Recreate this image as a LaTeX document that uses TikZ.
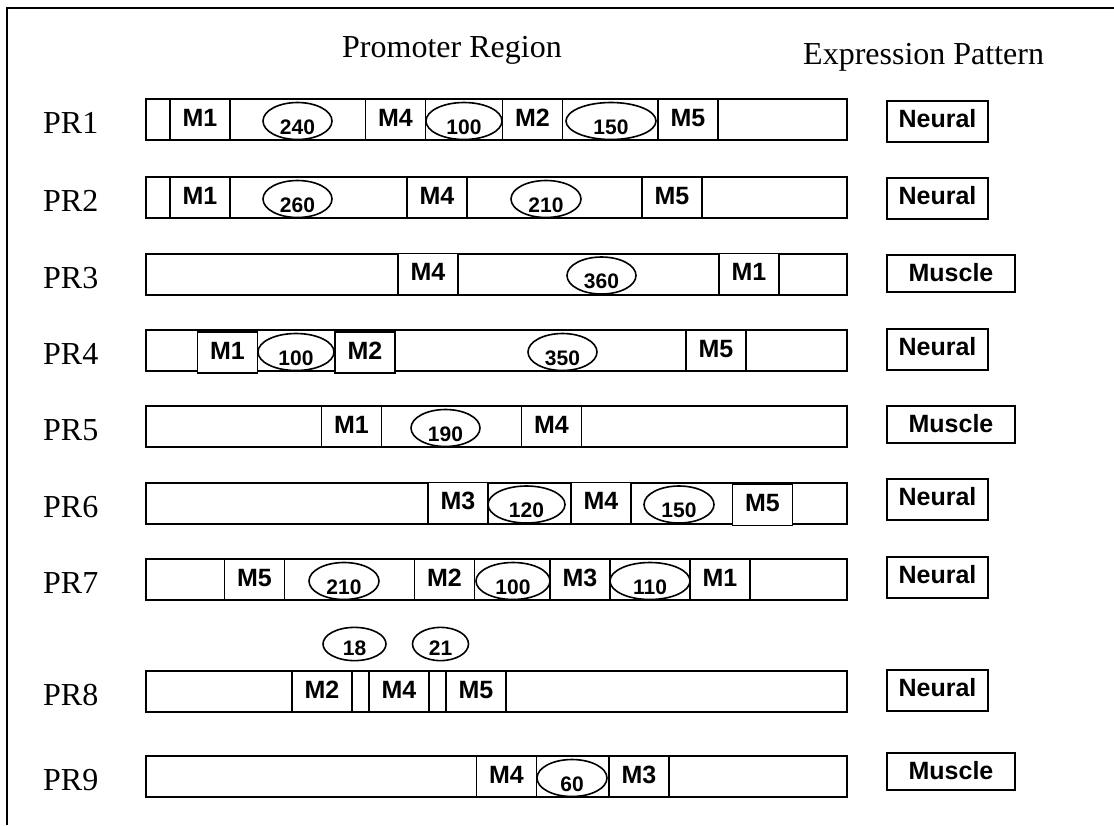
\documentclass[tikz,border=0pt]{standalone}
\usepackage{fontspec}
\setmainfont{Liberation Serif}
\setsansfont{Liberation Sans}
\usetikzlibrary{shapes.geometric}

\begin{document}
\begin{tikzpicture}[x=1pt,y=-1pt,
    barre/.style={draw,line width=2pt,inner sep=0pt,minimum width=701pt,minimum height=41pt},
    motif/.style={draw,line width=1.6pt,fill=white,inner sep=0pt,minimum width=60pt,text height=27pt,text depth=14pt,font=\sffamily\bfseries\fontsize{25}{27}\selectfont},
    trou/.style={draw,ellipse,line width=1.6pt,fill=white,inner sep=0pt,minimum height=37pt,text height=26pt,text depth=-2pt,font=\sffamily\bfseries\fontsize{21}{23}\selectfont},
    nom/.style={anchor=base west,inner sep=0pt,font=\fontsize{32}{34}\selectfont},
    neural/.style={draw,line width=2pt,anchor=west,inner sep=0pt,minimum width=101pt,text height=26pt,text depth=15pt,font=\sffamily\bfseries\fontsize{25}{27}\selectfont},
    muscle/.style={draw,line width=2pt,anchor=west,inner sep=0pt,minimum width=128pt,text height=26pt,text depth=11pt,font=\sffamily\bfseries\fontsize{25}{27}\selectfont}]

        \useasboundingbox (0,0) rectangle (1114,825);

        % Cadre
        \coordinate (C) at (7,8);
        \draw[line width=2pt] (1114,8) -- (C) -- (7,825);

        % Titres
        \node[nom] (titreP) at (342,57) {Promoter Region};
        \node[nom] (titreE) at (803,64) {Expression Pattern};

        % PR1
        \node[nom] (p1) at (43,133) {PR1};
        \node[barre] (b1) at (496.5,119.5) {};
        \node[motif] (b1m1) at (200,119.5) {M1};
        \node[trou,minimum width=69pt] (b1e1) at (297.5,121) {240};
        \node[motif] (b1m4) at (395.5,119.5) {M4};
        \node[trou,minimum width=76pt] (b1e2) at (464,121) {100};
        \node[motif] (b1m2) at (532.5,119.5) {M2};
        \node[trou,minimum width=90pt] (b1e3) at (611,121) {150};
        \node[motif] (b1m5) at (688,119.5) {M5};
        \node[neural] (x1) at (886,121.5) {Neural};

        % PR2
        \node[nom] (p2) at (43,211) {PR2};
        \node[barre] (b2) at (496.5,197.5) {};
        \node[motif] (b2m1) at (200,197.5) {M1};
        \node[trou,minimum width=69pt] (b2e1) at (297.5,199) {260};
        \node[motif] (b2m4) at (437,197.5) {M4};
        \node[trou,minimum width=70pt] (b2e2) at (546,199) {210};
        \node[motif] (b2m5) at (672,197.5) {M5};
        \node[neural] (x2) at (886,198.5) {Neural};

        % PR3
        \node[nom] (p3) at (43,288) {PR3};
        \node[barre] (b3) at (496.5,274) {};
        \node[motif] (b3m4) at (428,274) {M4};
        \node[trou,minimum width=69pt] (b3e1) at (601.5,275.5) {360};
        \node[motif] (b3m1) at (749,274) {M1};
        \node[muscle] (x3) at (886,273.5) {Muscle};

        % PR4
        \node[nom] (p4) at (43,364) {PR4};
        \node[barre] (b4) at (496.5,350.5) {};
        \node[motif] (b4m1) at (227.5,352.5) {M1};
        \node[trou,minimum width=76pt] (b4e1) at (296,352) {100};
        \node[motif] (b4m2) at (365,352.5) {M2};
        \node[trou,minimum width=69pt] (b4e2) at (562.5,352) {350};
        \node[motif] (b4m5) at (716,350.5) {M5};
        \node[neural] (x4) at (886,349.5) {Neural};

        % PR5
        \node[nom] (p5) at (43,440) {PR5};
        \node[barre] (b5) at (496.5,426.5) {};
        \node[motif] (b5m1) at (351.5,426.5) {M1};
        \node[trou,minimum width=69pt] (b5e1) at (445.5,428) {190};
        \node[motif] (b5m4) at (551.5,426.5) {M4};
        \node[muscle] (x5) at (886,424.5) {Muscle};

        % PR6
        \node[nom] (p6) at (43,517) {PR6};
        \node[barre] (b6) at (496.5,503) {};
        \node[motif] (b6m3) at (458,503) {M3};
        \node[trou,minimum width=77pt] (b6e1) at (526.5,504.5) {120};
        \node[motif] (b6m4) at (601,503) {M4};
        \node[trou,minimum width=70pt] (b6e2) at (679,504.5) {150};
        \node[motif] (b6m5) at (762.5,505) {M5};
        \node[neural] (x6) at (886,499.5) {Neural};

        % PR7
        \node[nom] (p7) at (43,593) {PR7};
        \node[barre] (b7) at (496.5,579.5) {};
        \node[motif] (b7m5) at (254.5,579.5) {M5};
        \node[trou,minimum width=70pt] (b7e1) at (344,581) {210};
        \node[motif] (b7m2) at (444.5,579.5) {M2};
        \node[trou,minimum width=74pt] (b7e2) at (513,581) {100};
        \node[motif] (b7m3) at (580,579.5) {M3};
        \node[trou,minimum width=80pt] (b7e3) at (650,581) {110};
        \node[motif] (b7m1) at (720,579.5) {M1};
        \node[neural] (x7) at (886,577.5) {Neural};

        % PR8
        \node[nom] (p8) at (43,705) {PR8};
        \node[barre] (b8) at (496.5,691.5) {};
        \node[motif] (b8m2) at (322,691.5) {M2};
        \node[motif] (b8m4) at (399,691.5) {M4};
        \node[motif] (b8m5) at (476,691.5) {M5};
        \node[trou,minimum width=63pt,minimum height=31pt,text height=23.5pt,text depth=-2.5pt] (b8e1) at (354.5,644) {18};
        \node[trou,minimum width=56pt,minimum height=31pt,text height=23.5pt,text depth=-2.5pt] (b8e2) at (440.5,644) {21};
        \node[neural] (x8) at (886,690.5) {Neural};

        % PR9
        \node[nom] (p9) at (43,790) {PR9};
        \node[barre] (b9) at (496.5,776.5) {};
        \node[motif] (b9m4) at (506.5,776.5) {M4};
        \node[trou,minimum width=70pt] (b9e1) at (572,778) {60};
        \node[motif] (b9m3) at (639,776.5) {M3};
        \node[muscle] (x9) at (886,771.5) {Muscle};
    \end{tikzpicture}
\end{document}
